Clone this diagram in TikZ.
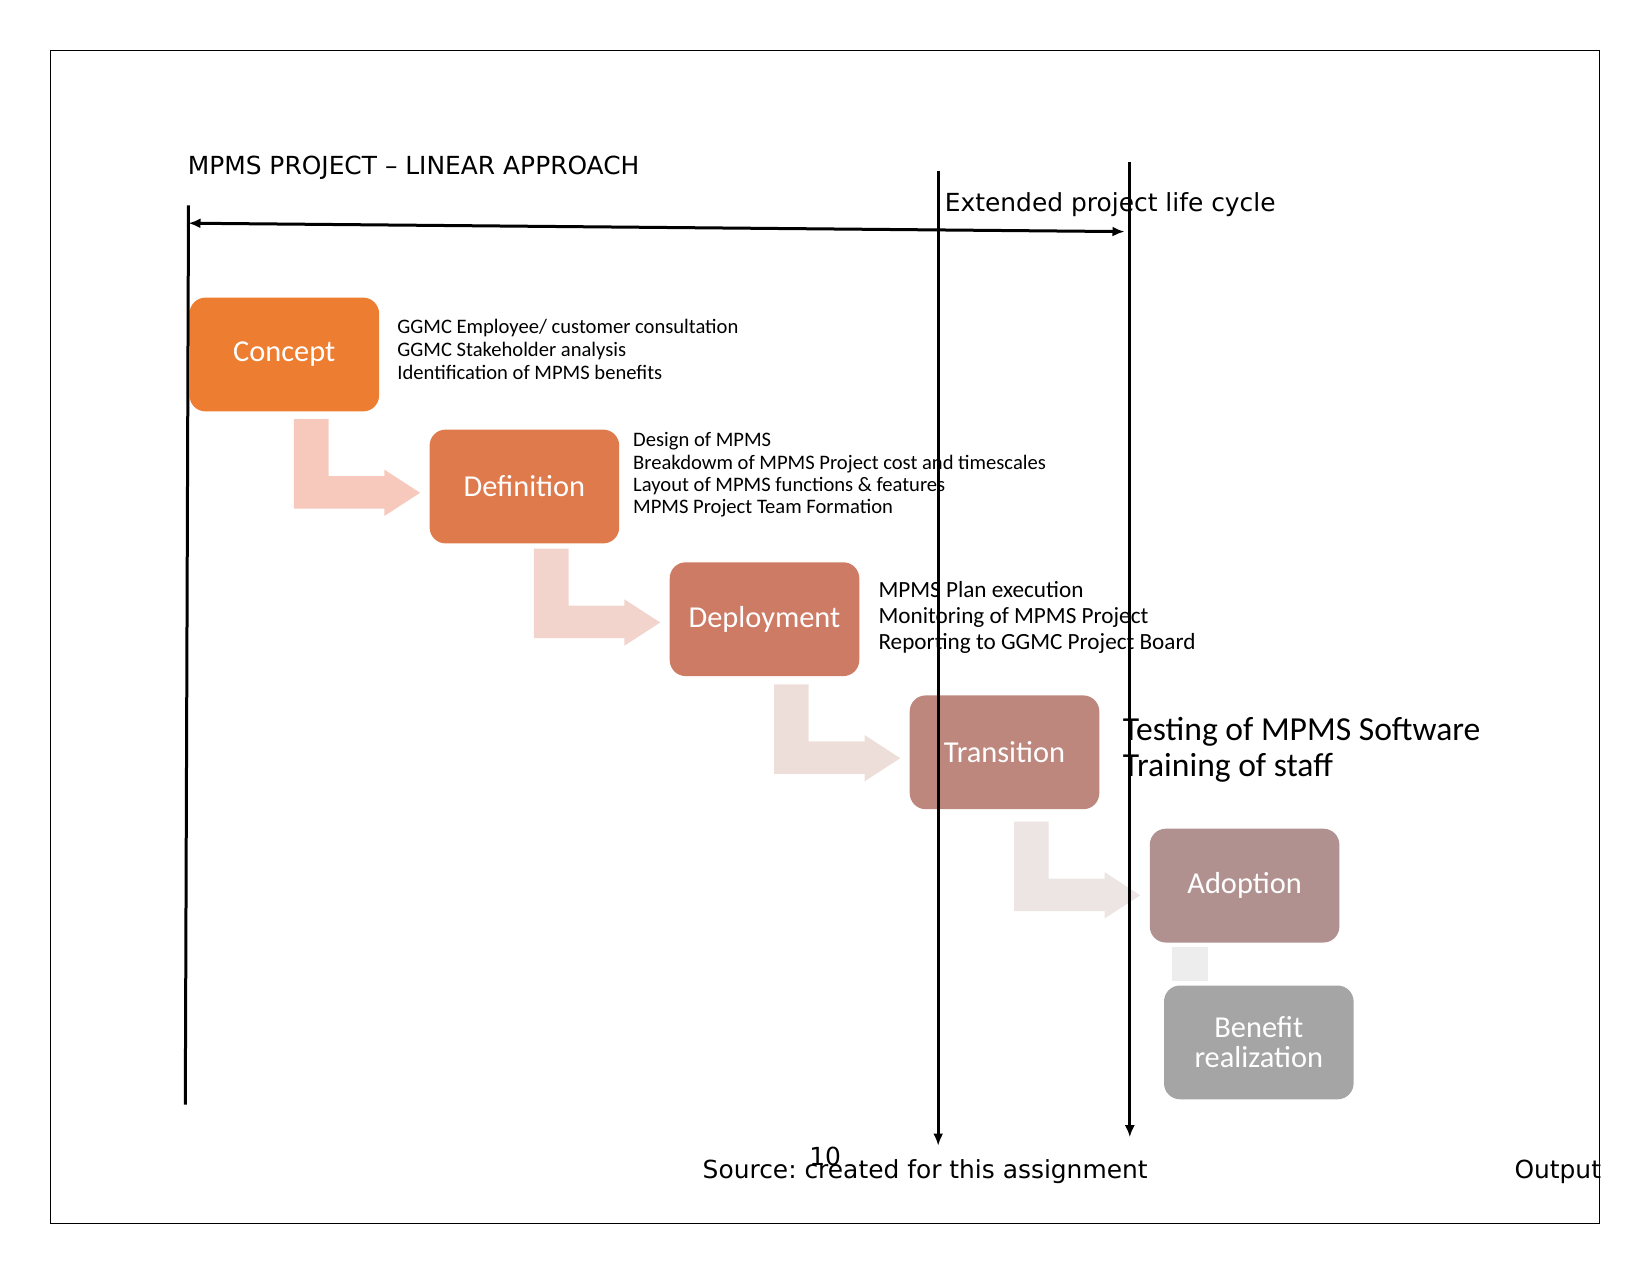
\documentclass[tikz,border=0pt]{standalone}
\usepackage{fontspec}
\setmainfont{DejaVu Sans}
\newfontfamily\carl{Carlito}
\usetikzlibrary{arrows.meta,calc}
\frenchspacing
\definecolor{cA}{HTML}{ED7D31}
\definecolor{cB}{HTML}{DF7A4D}
\definecolor{cC}{HTML}{CD7B65}
\definecolor{cD}{HTML}{BE877D}
\definecolor{cE}{HTML}{B09190}
\definecolor{cF}{HTML}{A5A5A5}
\definecolor{aA}{HTML}{F6C9BC}
\definecolor{aB}{HTML}{F2D4CD}
\definecolor{aC}{HTML}{EEDEDA}
\definecolor{aD}{HTML}{ECE5E4}
\definecolor{aE}{HTML}{EDEDED}
\tikzset{
  bent/.pic={\fill[pic actions] (9.5,66.2) -- (44.2,66.2) -- (44.2,123.2) -- (100,123.2) -- (100,116.8) -- (135.8,140) -- (100,163.2) -- (100,155.7) -- (9.5,155.7) -- cycle;},
  stage/.style={rounded corners=8pt, minimum width=94.8pt, minimum height=56.9pt, inner sep=0pt, text=white, font=\carl\fontsize{15.2}{15}\selectfont, align=center},
  ln/.style={line width=1.5pt},
  tipend/.style={-{Latex[length=6pt,width=5pt]}},
  desc/.style={anchor=west, inner sep=0pt, align=left},
  lab/.style={anchor=base west, inner sep=0pt, font=\fontsize{12.45}{14}\selectfont}
}
\begin{document}
\begin{tikzpicture}[x=0.5pt,y=-0.5pt]
\useasboundingbox (0,0) rectangle (1651,1275);
\draw[line width=0.6pt] (50.5,50.5) rectangle (1599.4,1223.5);

% stages
\node[stage, fill=cA] (concept) at (284.3,354.5) {Concept};
\node[stage, fill=cB] (definition) at (524.4,486.5) {Definition};
\node[stage, fill=cC] (deployment) at (764.5,619.2) {Deployment};
\node[stage, fill=cD] (transition) at (1004.5,752.3) {Transition};
\node[stage, fill=cE] (adoption) at (1244.6,885.6) {Adoption};
\node[stage, fill=cF] (benefit) at (1258.8,1042.4) {Benefit\\realization};

% bent arrows
\pic[fill=aA] at ($(concept.center)+(0,-1.7)$) {bent};
\pic[fill=aB] at ($(definition.center)+(0,-4)$) {bent};
\pic[fill=aC] at ($(deployment.center)+(0,-1)$) {bent};
\pic[fill=aD] at ($(transition.center)+(0,3)$) {bent};
\fill[aE] ($(adoption.center)+(-72.6,60.9)$) rectangle ($(adoption.center)+(-36.9,95.4)$);

% descriptions
\node[desc, font=\carl\fontsize{10.3}{11.3}\selectfont] (dA) at (397,349.5) {GGMC Employee/ customer consultation\\GGMC Stakeholder analysis\\Identification of MPMS benefits};
\node[desc, font=\carl\fontsize{10.3}{11.2}\selectfont] (dB) at (632.8,475) {Design of MPMS\\Breakdowm of MPMS Project cost and timescales\\Layout of MPMS functions \& features\\MPMS Project Team Formation};
\node[desc, font=\carl\fontsize{11.6}{12.9}\selectfont] (dC) at (878.1,617.5) {MPMS Plan execution\\Monitoring of MPMS Project\\Reporting to GGMC Project Board};
\node[desc, font=\carl\fontsize{16.8}{17.9}\selectfont] (dD) at (1122.4,749.8) {Testing of MPMS Software\\Training of staff};

% labels
\node[lab] (title) at (187.4,174.8) {MPMS PROJECT – LINEAR APPROACH};
\node[lab] (ext) at (944.5,211.6) {Extended project life cycle};
\node[lab] (src) at (702.3,1178.2) {Source: created for this assignment};
\node[lab] (pg) at (809,1165.6) {10};
\node[lab] (out) at (1514.1,1178.2) {Output};

% lines
\coordinate (Ltop) at (188.5,205.3);
\coordinate (Lbot) at (185.3,1104.5);
\coordinate (Hl) at (188.5,223.2);
\coordinate (Hr) at (1124.5,231.6);
\coordinate (M1t) at (938.2,170.6);
\coordinate (M1b) at (938.2,1145.6);
\coordinate (M2t) at (1129.8,162.2);
\coordinate (M2b) at (1129.8,1137.2);
\draw[ln] (Ltop) -- (Lbot);
\draw[ln,{Latex[length=6pt,width=5pt]}-{Latex[length=6pt,width=5pt]}] (Hl) -- (Hr);
\draw[ln,tipend] (M1t) -- (M1b);
\draw[ln,tipend] (M2t) -- (M2b);
\end{tikzpicture}
\end{document}
